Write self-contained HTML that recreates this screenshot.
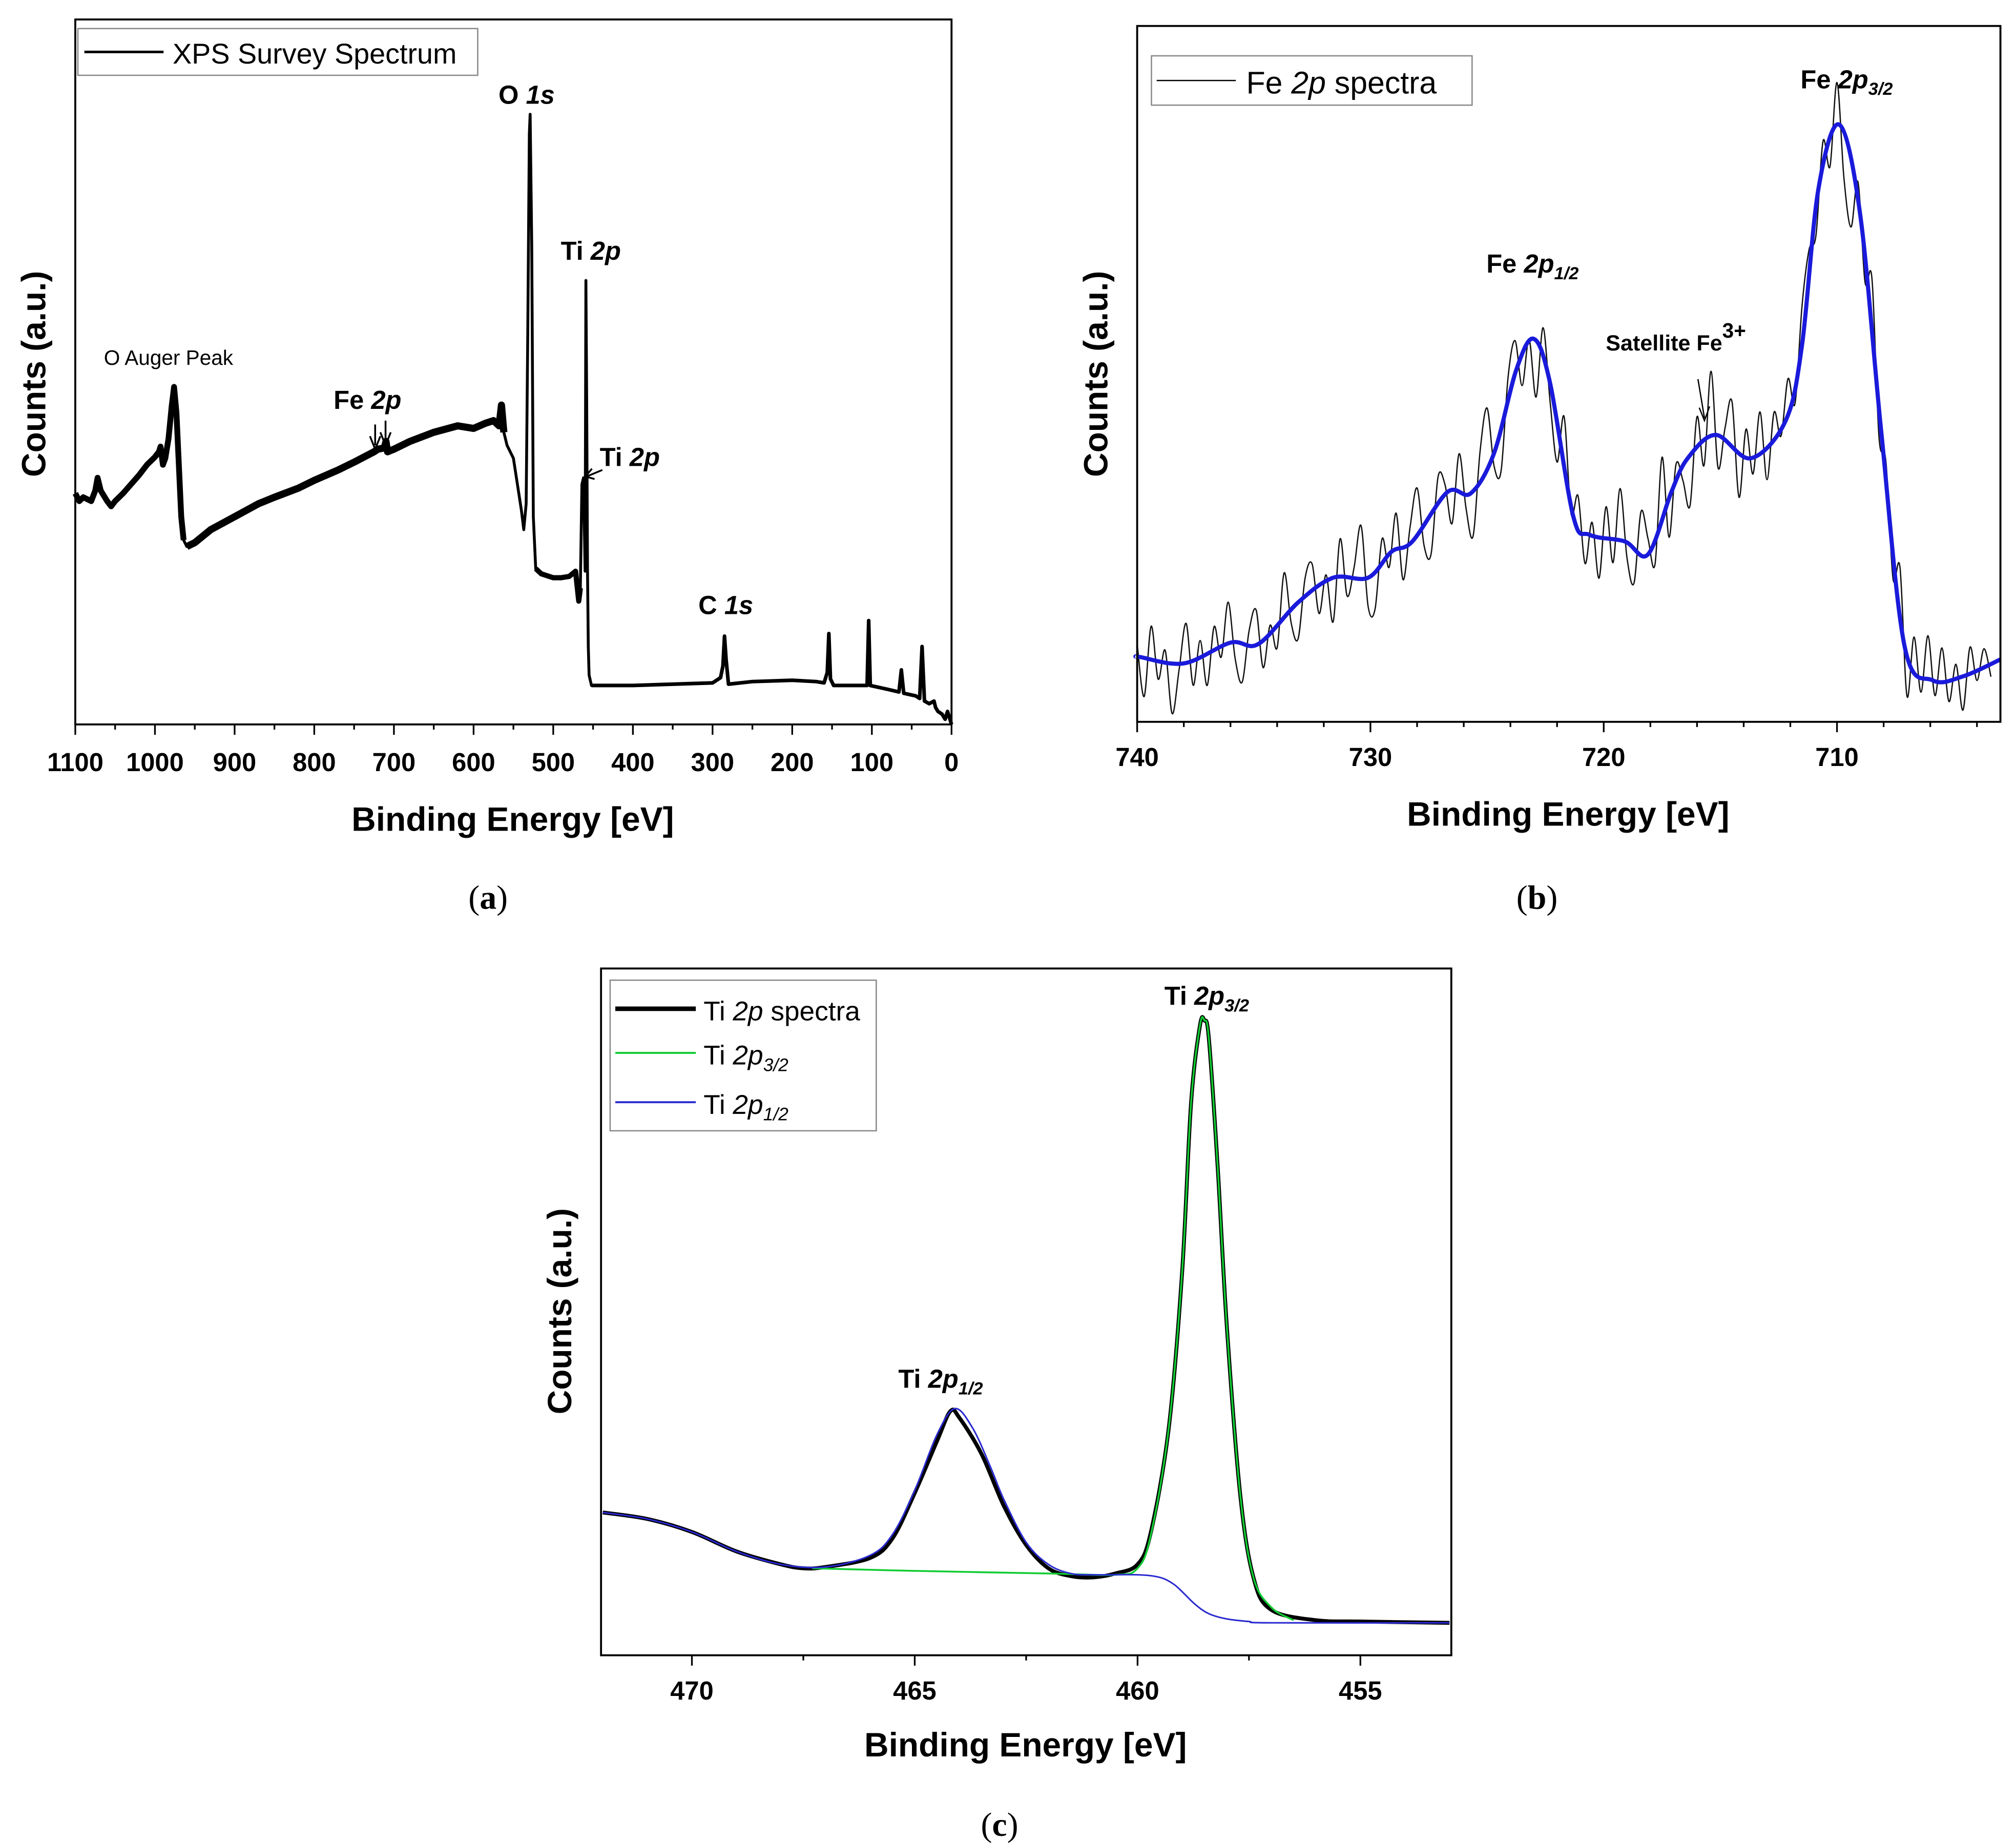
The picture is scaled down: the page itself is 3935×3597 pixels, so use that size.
<!DOCTYPE html>
<html><head><meta charset="utf-8"><style>
html,body{margin:0;padding:0;background:#fff}
svg{display:block;font-family:"Liberation Sans",sans-serif}
</style></head><body>
<svg id="fig" width="3935" height="3597" viewBox="0 0 1553 1419.6" preserveAspectRatio="none" xmlns="http://www.w3.org/2000/svg">
<rect width="1553" height="1420" fill="#fff"/>
<g id="pa"></g>
<g id="pb"></g>
<g id="pc"></g>
</svg>
<script>
// ---- Panel (a) survey data: binding energy (eV) / counts (a.u.)
const surveyE=[1100,1095,1090,1080,1075,1072,1068,1060,1055,1050,1040,1030,1020,1010,1000,995,993,990,987,983,979,976,973,970,967,964,960,950,930,900,870,850,820,800,770,750,725,720,712,710,708,700,680,650,620,600,585,575,568,565,562,558,550,545,540,537,534,532,530,529,527,525,522,515,500,490,480,472,468,466,464,462,460,459,458,457,456,455,452,400,300,290,287,285,283,280,250,200,170,160,156,154,152,148,120,106,104,102,80,66,63,60,45,40,37,34,28,22,20,17,12,8,5,2,0];
const surveyC=[178,172,175,172,180,190,180,172,168,172,178,185,192,200,206,210,214,200,205,220,245,260,240,200,160,142,137,140,150,160,170,175,182,188,196,202,210,212,213,218,210,212,218,225,230,228,232,234,230,246,225,215,205,185,165,150,170,300,455,470,370,160,120,116,113,113,114,118,95,105,185,190,118,342,250,120,60,38,30,30,32,36,45,68,50,31,33,34,33,32,40,70,35,30,30,30,80,30,27,25,42,24,22,20,60,18,16,18,13,10,8,4,10,4,0];
const surveyTicks=[1100,1000,900,800,700,600,500,400,300,200,100,0];
// ---- Panel (b) Fe 2p: blue smoothed envelope
const feE=[740,739.9,738,736,734.8,733.1,731.6,730.1,729.1,728.2,726.7,725.7,724.7,723.75,723,722.3,721.3,720.6,719.1,718.1,717.1,716.4,715.2,713.7,712.2,711.5,710.8,709.9,709,708.1,707.1,705.9,704.6,703];
const feFit=[50,50,45,61,60,92,111,111,131,139,177,176,207,271,295,261,158,144,139,129,177,203,221,203,232,290,410,460,390,223,58,32,35,48];
// black raw spectrum deviations (hand-read) at 0.3 eV steps from 740 eV
const feRawOffsets=[10,-30,25,-15,8,-40,-5,30,-20,12,-25,18,-8,32,-12,-30,10,26,-22,5,-18,34,-10,-28,15,22,-20,6,-34,30,-14,8,40,-22,-30,18,-10,28,-26,12,36,-16,-30,22,8,-24,30,-12,-36,20,44,-10,-34,18,26,-20,6,-40,28,-14,-30,36,-8,20,-26,10,-32,24,-18,40,-12,-28,30,12,-22,46,-30,14,-10,-38,26,-16,52,-24,10,34,-36,20,-14,28,-30,16,-8,24,-20,30,22,-18,26,-10,38,-26,-40,18,-14,44,-22,10,-30,28,-36,16,-20,30,-12,24,-18,10,-26,20,-8,14,-10];
// ---- Panel (c) Ti 2p
const tiE=[472,471,470,469,468,467.5,467,466,465.5,465,464.5,464.2,464,463.5,463,462.5,462,461.5,461,460.5,460,459.7,459.3,459,458.8,458.6,458.5,458.4,458.2,458,457.7,457.4,457,456,455,453];
const tiRaw=[85,80,70,55,45,42,43,50,65,100,140,163,158,130,90,60,42,36,35,38,45,70,150,270,400,460,464,450,350,230,100,35,10,2,1,0];
const ti32E=[467.3,465,462,460.5,460,459.7,459.3,459,458.8,458.6,458.5,458.4,458.2,458,457.7,457.4,457,456.5];
const ti32C=[42,40,38,37,42,68,150,270,400,460,464,450,350,230,100,35,12,2];
const ti12E=[472,471,470,469,468,467,466,465.5,465,464.5,464.1,463.7,463.3,463,462.5,462,461.5,461,460,459.5,459.2,459,458.7,458.4,458,457.5,457,453];
const ti12C=[85,80,70,55,45,43,52,68,102,145,165,150,120,95,62,45,38,37,37,35,30,24,14,7,3,1,0,0];
const feTicks=[740,730,720,710];
const tiTicks=[470,465,460,455];

const NS="http://www.w3.org/2000/svg";
function mk(parent,tag,attrs,text){const e=document.createElementNS(NS,tag);for(const k in attrs)e.setAttribute(k,attrs[k]);if(text!==undefined)e.textContent=text;parent.appendChild(e);return e;}
function path(xs,ys,sx,sy){let d="";for(let i=0;i<xs.length;i++)d+=(i?"L":"M")+sx(xs[i]).toFixed(2)+","+sy(ys[i]).toFixed(2);return d;}
function spath(xs,ys,sx,sy){const P=xs.map((x,i)=>[sx(x),sy(ys[i])]);let d="M"+P[0][0].toFixed(2)+","+P[0][1].toFixed(2);
for(let i=0;i<P.length-1;i++){const p0=P[Math.max(0,i-1)],p1=P[i],p2=P[i+1],p3=P[Math.min(P.length-1,i+2)];
const c1=[p1[0]+(p2[0]-p0[0])/6,p1[1]+(p2[1]-p0[1])/6],c2=[p2[0]-(p3[0]-p1[0])/6,p2[1]-(p3[1]-p1[1])/6];
d+="C"+c1[0].toFixed(2)+","+c1[1].toFixed(2)+" "+c2[0].toFixed(2)+","+c2[1].toFixed(2)+" "+p2[0].toFixed(2)+","+p2[1].toFixed(2);}return d;}
function interp(xs,ys,x){for(let i=0;i<xs.length-1;i++){const a=xs[i],b=xs[i+1];if((x<=a&&x>=b)||(x>=a&&x<=b)){const t=(x-a)/(b-a);return ys[i]+t*(ys[i+1]-ys[i]);}}return ys[ys.length-1];}
function subset(xs,ys,hi,lo){const a=[],b=[];xs.forEach((x,i)=>{if(x<=hi&&x>=lo){a.push(x);b.push(ys[i]);}});return [a,b];}

// ===== Panel A =====
const A=document.getElementById('pa');
const ax=e=>58+(1100-e)/1100*675, ay=c=>558-c;
let el;
el=mk(A,'path',{d:path(surveyE,surveyC,ax,ay),fill:'none',stroke:'#000','stroke-width':2.2,'stroke-linejoin':'round'});

[[1100,964,4.5],[962,560,5.5],[524,466,4],[452,0,2.8]].forEach(r=>{const s=subset(surveyE,surveyC,r[0],r[1]);
el=mk(A,'path',{d:path(s[0],s[1],ax,ay),fill:'none',stroke:'#000','stroke-width':r[2],'stroke-linejoin':'round'});
});
el=mk(A,'rect',{x:58,y:15,width:675,height:543,fill:'none',stroke:'#000','stroke-width':1.5});

for(let v=1100;v>=0;v-=50){mk(A,'line',{x1:ax(v),x2:ax(v),y1:558,y2:v%100===0?566:562,stroke:'#000','stroke-width':1.3});}
surveyTicks.forEach(v=>{el=mk(A,'text',{x:ax(v),y:594,'text-anchor':'middle','font-size':20,'font-weight':'bold'},String(v));
});
el=mk(A,'text',{x:395,y:640,'text-anchor':'middle','font-size':26,'font-weight':'bold'},'Binding Energy [eV]');

el=mk(A,'text',{x:0,y:0,transform:'translate(35,288) rotate(-90)','text-anchor':'middle','font-size':26,'font-weight':'bold'},'Counts (a.u.)');

el=mk(A,'rect',{x:60,y:22,width:308,height:36,fill:'#fff',stroke:'#888','stroke-width':1});

mk(A,'line',{x1:65,x2:126,y1:40,y2:40,stroke:'#000','stroke-width':2});
el=mk(A,'text',{x:133,y:49,'font-size':22},'XPS Survey Spectrum');

const annA=[["O Auger Peak",80,281,16,'normal'],["O ",384,80,20,'bold'],["Ti ",432,200,20,'bold'],["Ti ",462,359,20,'bold'],["Fe ",257,315,20,'bold'],["C ",538,473,20,'bold']];
const annItal=["","1s","2p","2p","2p","1s"];
annA.forEach((a,i)=>{el=mk(A,'text',{x:a[1],y:a[2],'font-size':a[3],'font-weight':a[4]});

el.appendChild(document.createTextNode(a[0]));if(annItal[i]){mk(el,'tspan',{'font-style':'italic'},annItal[i]);}});
mk(A,'path',{d:'M289,327 L289,343 M285,336 L289,346 L293,336 M297,324 L297,340 M293,333 L297,343 L301,333',stroke:'#000','stroke-width':1.4,fill:'none'});
mk(A,'path',{d:'M464,362 L452,367 M456,361 L451,367 L458,369',stroke:'#000','stroke-width':1.4,fill:'none'});
el=mk(A,'text',{x:376,y:700,'text-anchor':'middle','font-size':26,'font-family':'Liberation Serif'});

el.appendChild(document.createTextNode('('));mk(el,'tspan',{'font-weight':'bold'},'a');el.appendChild(document.createTextNode(')'));

// ===== Panel B =====
const B=document.getElementById('pb');
const bx=e=>876+(740-e)*17.97, by=c=>556-c;
const rawE=[],rawC=[];
feRawOffsets.forEach((o,i)=>{const e=740-i*0.3;if(e>=703){rawE.push(e);rawC.push(interp(feE,feFit,e)+o);}});
el=mk(B,'path',{d:spath(rawE,rawC,bx,by),fill:'none',stroke:'#111','stroke-width':1});

el=mk(B,'path',{d:spath(feE,feFit,bx,by),fill:'none',stroke:'#1a1adb','stroke-width':3.2,'stroke-linejoin':'round'});

el=mk(B,'rect',{x:876,y:20,width:665,height:536,fill:'none',stroke:'#000','stroke-width':1.5});

for(let v=740;v>=704;v-=2){mk(B,'line',{x1:bx(v),x2:bx(v),y1:556,y2:v%10===0?564:560,stroke:'#000','stroke-width':1.3});}
feTicks.forEach(v=>{el=mk(B,'text',{x:bx(v),y:590,'text-anchor':'middle','font-size':20,'font-weight':'bold'},String(v));
});
el=mk(B,'text',{x:1208,y:636,'text-anchor':'middle','font-size':26,'font-weight':'bold'},'Binding Energy [eV]');

el=mk(B,'text',{x:0,y:0,transform:'translate(853,288) rotate(-90)','text-anchor':'middle','font-size':26,'font-weight':'bold'},'Counts (a.u.)');

el=mk(B,'rect',{x:887,y:43,width:247,height:38,fill:'#fff',stroke:'#888','stroke-width':1});

mk(B,'line',{x1:891,x2:952,y1:62,y2:62,stroke:'#000','stroke-width':1});
el=mk(B,'text',{x:960,y:72,'font-size':24});

el.appendChild(document.createTextNode('Fe '));mk(el,'tspan',{'font-style':'italic'},'2p');el.appendChild(document.createTextNode(' spectra'));
function subLabel(g,x,y,a,it,sub,fs,name){const t=mk(g,'text',{x:x,y:y,'font-size':fs,'font-weight':'bold'});

t.appendChild(document.createTextNode(a));mk(t,'tspan',{'font-style':'italic'},it);mk(t,'tspan',{'font-style':'italic','font-size':fs*0.68,dy:5},sub);return t;}
subLabel(B,1387,68,'Fe ','2p','3/2',20,'peak-label-fe2p32');
subLabel(B,1145,210,'Fe ','2p','1/2',20,'peak-label-fe2p12');
el=mk(B,'text',{x:1237,y:270,'font-size':17,'font-weight':'bold'});

el.appendChild(document.createTextNode('Satellite Fe'));mk(el,'tspan',{dy:-10,'font-size':16},'3+');
mk(B,'path',{d:'M1308,292 L1313,322 M1309,314 L1313,324 L1317,313',stroke:'#000','stroke-width':1,fill:'none'});
el=mk(B,'text',{x:1184,y:700,'text-anchor':'middle','font-size':26,'font-family':'Liberation Serif'});

el.appendChild(document.createTextNode('('));mk(el,'tspan',{'font-weight':'bold'},'b');el.appendChild(document.createTextNode(')'));

// ===== Panel C =====
const C=document.getElementById('pc');
const cx=e=>533+(470-e)*34.33, cy=c=>1250-c;
el=mk(C,'path',{d:spath(tiE,tiRaw,cx,cy),fill:'none',stroke:'#000','stroke-width':3,'stroke-linejoin':'round'});

el=mk(C,'path',{d:spath(ti32E,ti32C,cx,cy),fill:'none',stroke:'#11cc33','stroke-width':1.4});

el=mk(C,'path',{d:spath(ti12E,ti12C,cx,cy),fill:'none',stroke:'#2a2ad0','stroke-width':1.2});

el=mk(C,'rect',{x:463,y:746,width:655,height:529,fill:'none',stroke:'#000','stroke-width':1.5});

for(let v=470;v>=455;v-=2.5){mk(C,'line',{x1:cx(v),x2:cx(v),y1:1275,y2:v%5===0?1283:1279,stroke:'#000','stroke-width':1.3});}
tiTicks.forEach(v=>{el=mk(C,'text',{x:cx(v),y:1309,'text-anchor':'middle','font-size':20,'font-weight':'bold'},String(v));
});
el=mk(C,'text',{x:790,y:1353,'text-anchor':'middle','font-size':26,'font-weight':'bold'},'Binding Energy [eV]');

el=mk(C,'text',{x:0,y:0,transform:'translate(440,1010) rotate(-90)','text-anchor':'middle','font-size':26,'font-weight':'bold'},'Counts (a.u.)');

el=mk(C,'rect',{x:470,y:755,width:205,height:116,fill:'#fff',stroke:'#888','stroke-width':1});

mk(C,'line',{x1:474,x2:536,y1:777,y2:777,stroke:'#000','stroke-width':3.5});
mk(C,'line',{x1:474,x2:536,y1:811,y2:811,stroke:'#11cc33','stroke-width':1.5});
mk(C,'line',{x1:474,x2:536,y1:849,y2:849,stroke:'#2a2ad0','stroke-width':1.5});
el=mk(C,'text',{x:542,y:786,'font-size':21});

el.appendChild(document.createTextNode('Ti '));mk(el,'tspan',{'font-style':'italic'},'2p');el.appendChild(document.createTextNode(' spectra'));
[['3/2',820,'legend-entry-ti2p32'],['1/2',858,'legend-entry-ti2p12']].forEach(r=>{el=mk(C,'text',{x:542,y:r[1],'font-size':21});

el.appendChild(document.createTextNode('Ti '));mk(el,'tspan',{'font-style':'italic'},'2p');mk(el,'tspan',{'font-style':'italic','font-size':14,dy:5},r[0]);});
subLabel(C,897,774,'Ti ','2p','3/2',20,'peak-label-ti2p32');
subLabel(C,692,1069,'Ti ','2p','1/2',20,'peak-label-ti2p12');
el=mk(C,'text',{x:770,y:1414,'text-anchor':'middle','font-size':26,'font-family':'Liberation Serif'});

el.appendChild(document.createTextNode('('));mk(el,'tspan',{'font-weight':'bold'},'c');el.appendChild(document.createTextNode(')'));
</script>
</body></html>
